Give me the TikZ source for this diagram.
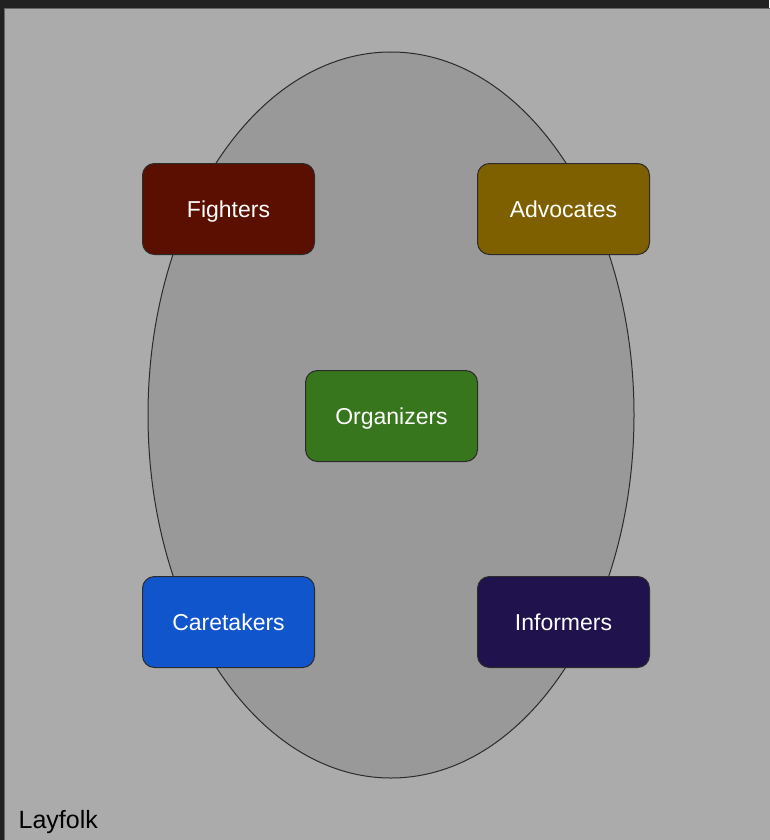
\documentclass[tikz,border=0pt]{standalone}
\usepackage{fontspec}
\setmainfont{Liberation Sans}
\usetikzlibrary{shapes.geometric}

\definecolor{frame}{HTML}{212121}
\definecolor{panel}{HTML}{ABABAB}
\definecolor{panelline}{HTML}{666666}
\definecolor{oval}{HTML}{999999}
\definecolor{boxline}{HTML}{2B2B2B}
\definecolor{fightcol}{HTML}{5B0F00}
\definecolor{advcol}{HTML}{7F6000}
\definecolor{orgcol}{HTML}{38761D}
\definecolor{carecol}{HTML}{1155CC}
\definecolor{infocol}{HTML}{20124D}

\begin{document}
\begin{tikzpicture}[x=1pt, y=-1pt,
    role/.style={draw=boxline, line width=1pt, rounded corners=12pt,
        minimum width=172pt, minimum height=91pt, text=white,
        text height=20pt, text depth=2.6pt,
        font=\fontsize{23}{27}\selectfont}]

    % Dark frame and page size
    \fill[frame] (0,0) rectangle (769,840);
    \useasboundingbox (0,0) rectangle (769,840);

    % Light gray panel with thin border
    \draw[panelline, fill=panel] (4.5,8.5) rectangle (775,846);

    % Big oval holding the groups
    \node[ellipse, draw=boxline, fill=oval, line width=1pt,
        minimum width=486pt, minimum height=726pt] (group) at (391,415) {};

    % Corner groups
    \node[role, fill=fightcol] (fighters) at (228.5,209) {Fighters};
    \node[role, fill=advcol] (advocates) at (563.5,209) {Advocates};
    \node[role, fill=carecol] (caretakers) at (228.5,622) {Caretakers};
    \node[role, fill=infocol] (informers) at (563.5,622) {Informers};

    % Center group
    \node[role, fill=orgcol] (organizers) at (391.5,416) {Organizers};

    % "Layfolk" at the bottom left of the panel
    \node[anchor=base west, inner sep=0pt, font=\fontsize{25}{30}\selectfont] (layfolk) at (18.5,828) {Layfolk};

\end{tikzpicture}
\end{document}
